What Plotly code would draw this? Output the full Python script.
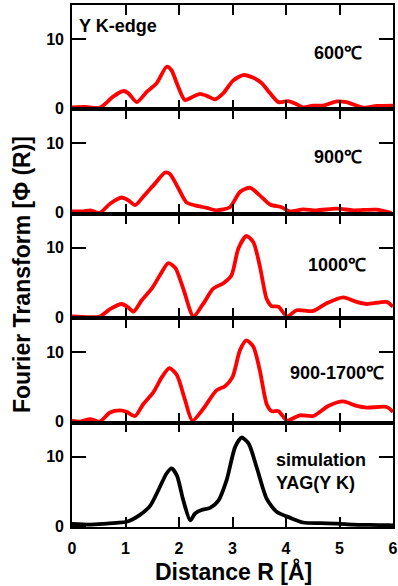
import plotly.graph_objects as go

# ---- data ----
r_600 = [0, 0.25, 0.52, 0.77, 0.96, 1.05, 1.21, 1.4, 1.58, 1.77, 1.86, 1.96, 2.11, 2.24, 2.39, 2.52, 2.67, 2.83,
         3.01, 3.2, 3.39, 3.55, 3.7, 3.86, 4.04, 4.17, 4.32, 4.51, 4.7, 4.95, 5.13, 5.45, 5.7, 6.0]
ft_600 = [0.15, 0.2, 0.1, 1.7, 2.5, 2.2, 0.9, 2.4, 3.6, 6.0, 5.5, 3.6, 1.2, 1.6, 2.1, 1.8, 1.3, 2.2,
          4.0, 4.8, 4.4, 3.6, 2.2, 0.9, 1.05, 0.7, 0.15, 0.4, 0.4, 1.0, 0.9, 0.1, 0.35, 0.4]

r_900 = [0, 0.21, 0.34, 0.52, 0.71, 0.93, 1.05, 1.18, 1.33, 1.55, 1.74, 1.83, 1.99, 2.14, 2.3, 2.52, 2.7, 2.95,
         3.14, 3.33, 3.51, 3.7, 3.92, 4.07, 4.32, 4.57, 4.95, 5.26, 5.69, 5.97]
ft_900 = [0.2, 0.2, 0.35, 0.0, 1.3, 2.2, 1.8, 1.1, 2.3, 4.2, 5.8, 5.6, 3.5, 1.5, 1.06, 0.7, 0.35, 0.8,
          3.0, 3.6, 2.5, 1.2, 0.8, 0.2, 0.5, 0.35, 0.6, 0.35, 0.45, 0.0]

r_1000 = [0, 0.52, 0.71, 0.93, 1.05, 1.15, 1.3, 1.49, 1.64, 1.8, 1.93, 2.08, 2.27, 2.45, 2.64, 2.83, 2.98,
          3.11, 3.26, 3.39, 3.51, 3.64, 3.73, 3.86, 4.02, 4.2, 4.51, 4.76, 5.07, 5.32, 5.51, 5.88, 6.0]
ft_1000 = [0.1, 0.1, 1.15, 1.9, 1.4, 0.8, 2.4, 4.1, 6.0, 7.8, 7.1, 4.1, 0.1, 1.9, 4.1, 4.9, 6.0,
           9.9, 11.7, 10.8, 7.4, 2.6, 1.6, 1.5, 0.1, 1.0, 0.9, 2.0, 2.85, 2.2, 1.9, 2.2, 1.5]

r_1700 = [0, 0.15, 0.34, 0.52, 0.71, 0.9, 1.02, 1.18, 1.33, 1.52, 1.68, 1.82, 1.96, 2.11, 2.25, 2.45, 2.7,
          2.86, 3.0, 3.14, 3.26, 3.39, 3.51, 3.64, 3.73, 3.86, 4.02, 4.26, 4.51, 4.79, 5.07, 5.32, 5.51, 5.88, 6.0]
ft_1700 = [0.15, 0.0, 0.35, 0.0, 1.3, 1.6, 1.4, 0.8, 2.5, 4.2, 6.4, 7.7, 6.7, 3.2, 0.15, 1.8, 4.5,
           5.1, 6.4, 10.3, 11.7, 10.8, 7.4, 2.5, 1.5, 1.5, 0.15, 0.9, 0.8, 2.25, 2.9, 2.25, 2.0, 2.1, 1.4]

r_sim = [0, 0.34, 0.59, 0.83, 1.02, 1.27, 1.46, 1.61, 1.77, 1.86, 1.96, 2.08, 2.21, 2.3, 2.42, 2.58, 2.74,
         2.89, 3.05, 3.17, 3.3, 3.45, 3.64, 3.83, 4.07, 4.32, 4.64, 4.95, 5.26, 5.57, 5.94, 6.0]
ft_sim = [0.3, 0.2, 0.3, 0.45, 0.6, 1.6, 2.9, 5.1, 7.6, 8.3, 7.3, 3.7, 0.8, 1.8, 2.3, 2.6, 3.7,
          6.6, 11.4, 12.75, 11.9, 8.5, 3.9, 2.0, 1.2, 0.5, 0.4, 0.35, 0.2, 0.15, 0.1, 0.1]

panel_labels = ["600℃", "900℃", "1000℃", "900-1700℃", "simulation<br>YAG(Y K)"]
x_ticks = [0, 1, 2, 3, 4, 5, 6]
y_ticks = [0, 10]
x_title = "Distance R [Å]"
y_title = "Fourier Transform [Φ (R)]"
edge_label = "Y K-edge"

series = [(r_600, ft_600, "red"), (r_900, ft_900, "red"), (r_1000, ft_1000, "red"),
          (r_1700, ft_1700, "red"), (r_sim, ft_sim, "black")]

# ---- layout geometry (pixels) ----
W, H = 398, 586
L, R, T, B = 72, 393, 5, 527
n = 5
ph = (B - T) / n

def px(x):
    return (x - L) / (R - L)

def py(y):
    return (B - y) / (B - T)

FONT = "Liberation Sans, Arial, sans-serif"

fig = go.Figure()
layout = dict(
    width=W, height=H,
    margin=dict(l=L, r=W - R, t=T, b=H - B, pad=0, autoexpand=False),
    paper_bgcolor="white", plot_bgcolor="white",
    showlegend=False,
    font=dict(family=FONT, color="black"),
)

for i, (xs, ys, col) in enumerate(series):
    k = i + 1
    xa = "x" if k == 1 else f"x{k}"
    ya = "y" if k == 1 else f"y{k}"
    fig.add_trace(go.Scatter(x=xs, y=ys, mode="lines", xaxis=xa, yaxis=ya,
                             line=dict(color=col, width=3.8, shape="spline", smoothing=0.7),
                             hoverinfo="skip"))
    ytop_px = T + i * ph
    ybot_px = T + (i + 1) * ph
    dom = [(B - ybot_px) / (B - T), (B - ytop_px) / (B - T)]
    last = (k == n)
    layout["xaxis" if k == 1 else f"xaxis{k}"] = dict(
        domain=[0, 1], anchor=ya, range=[0, 6], automargin=False,
        tickmode="array", tickvals=x_ticks, ticktext=[f"<b>{v}</b>" for v in x_ticks],
        ticks="inside", ticklen=10, tickwidth=2, tickcolor="black",
        showline=True, linecolor="black", linewidth=1.6, mirror="ticks",
        showgrid=False, zeroline=False, showticklabels=last,
        tickfont=dict(size=16, family=FONT, color="black"),
        ticklabelstandoff=6,
        matches=None if k == 1 else "x",
    )
    layout["yaxis" if k == 1 else f"yaxis{k}"] = dict(
        domain=dom, anchor=xa, range=[-0.15, 14.9], automargin=False,
        tickmode="array", tickvals=y_ticks, ticktext=[f"<b>{v}</b>" for v in y_ticks],
        ticks="inside", ticklen=14, tickwidth=2, tickcolor="black",
        showline=True, linecolor="black", linewidth=1.6, mirror="ticks",
        showgrid=False, zeroline=False,
        tickfont=dict(size=16, family=FONT, color="black"),
        ticklabelstandoff=3,
    )

fig.update_layout(**layout)

ann = []
ann.append(dict(text=f"<b>{edge_label}</b>", x=px(77), y=py(26), xref="paper", yref="paper",
                xanchor="left", yanchor="middle", showarrow=False, font=dict(size=18, family=FONT)))
label_pos = [(364, 53, "right"), (364, 157, "right"), (368, 265, "right"), (386, 373, "right"), (274, 471, "left")]
for lab, (lx, ly, anc) in zip(panel_labels, label_pos):
    ann.append(dict(text=f"<b>{lab}</b>", x=px(lx), y=py(ly), xref="paper", yref="paper",
                    xanchor=anc, yanchor="middle", align="left", showarrow=False,
                    font=dict(size=18, family=FONT)))
ann.append(dict(text=f"<b>{y_title}</b>", x=px(22), y=py(275), xref="paper", yref="paper",
                xanchor="center", yanchor="middle", textangle=-90, showarrow=False,
                font=dict(size=23, family=FONT)))
ann.append(dict(text=f"<b>{x_title}</b>", x=px(234), y=py(571), xref="paper", yref="paper",
                xanchor="center", yanchor="middle", showarrow=False,
                font=dict(size=23, family=FONT)))
fig.update_layout(annotations=ann)

fig.write_html("out.html", config={"displayModeBar": False},
               post_script="document.body.style.margin='0';document.body.style.overflow='hidden';")
